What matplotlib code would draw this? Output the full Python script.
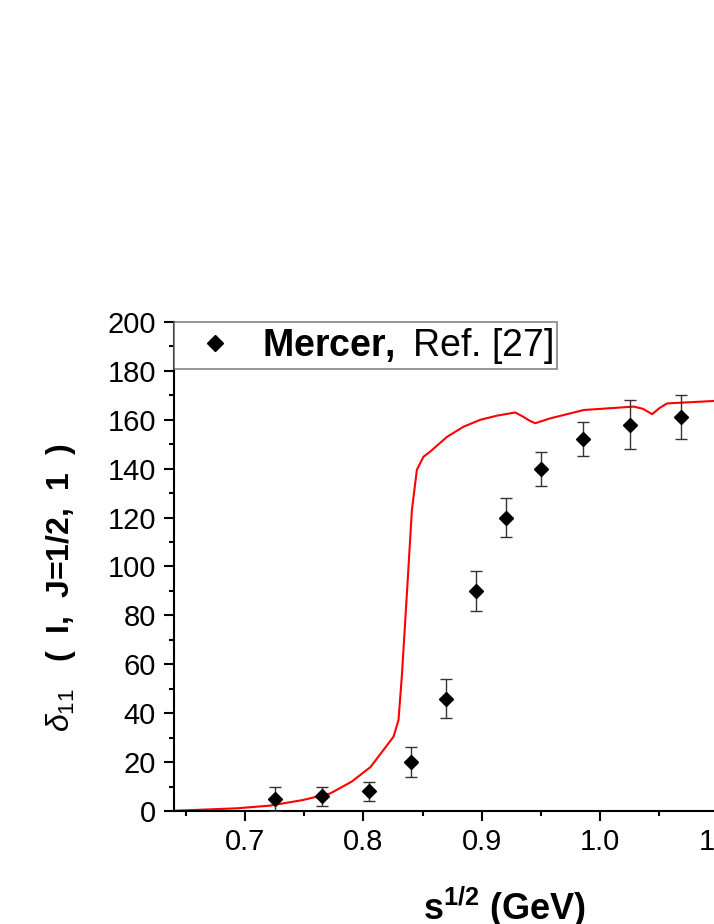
import numpy as np
import matplotlib
matplotlib.use('Agg')
from matplotlib import pyplot as plt
from matplotlib.lines import Line2D
from matplotlib.ticker import MultipleLocator

plt.rcParams['font.family'] = ['Liberation Sans', 'DejaVu Sans']
plt.rcParams['mathtext.fontset'] = 'custom'
plt.rcParams['mathtext.rm'] = 'Liberation Sans'
plt.rcParams['mathtext.bf'] = 'Liberation Sans:bold'
plt.rcParams['mathtext.it'] = 'Liberation Sans:italic'

# Mercer data points
data_x = [0.725, 0.765, 0.805, 0.840, 0.870, 0.895, 0.920, 0.950, 0.985, 1.025, 1.068]
data_y = [5, 6, 8, 20, 46, 90, 120, 140, 152, 158, 161]
data_err = [5, 4, 4, 6, 8, 8, 8, 7, 7, 10, 9]

# model curve
curve_x = [0.640, 0.693, 0.721, 0.749, 0.772, 0.790, 0.806, 0.8254, 0.8296, 0.8324,
           0.8367, 0.8409, 0.8451, 0.8507, 0.8564, 0.8705, 0.8846, 0.8987, 0.9128,
           0.9282, 0.9340, 0.9409, 0.9451, 0.9578, 0.9860, 1.0282, 1.0360, 1.0438,
           1.0500, 1.0564, 1.0959, 1.15, 1.20]
curve_y = [0.1, 1.1, 2.2, 4.5, 7.2, 12.0, 18.0, 30.4, 37.2, 55.0,
           89.0, 123.0, 139.5, 144.9, 147.0, 153.0, 157.2, 160.0, 161.7,
           163.0, 161.5, 159.5, 158.6, 160.6, 164.0, 165.4, 164.5, 162.3,
           164.8, 166.7, 167.7, 168.3, 168.8]

fig = plt.figure(figsize=(7.14, 9.24), dpi=100)
ax = fig.add_axes([174 / 714, 113 / 924, 1.0, 489 / 924])

ax.plot(curve_x, curve_y, color='red', lw=1.5, zorder=2)
ax.errorbar(data_x, data_y, yerr=data_err, fmt='D', color='black', ms=7.5,
            ecolor='#333333', elinewidth=1.0, capsize=4.5, capthick=1.0, zorder=3)

ax.set_xlim(0.64, 1.243)
ax.set_ylim(0, 200)
ax.xaxis.set_major_locator(MultipleLocator(0.1))
ax.xaxis.set_minor_locator(MultipleLocator(0.05))
ax.yaxis.set_major_locator(MultipleLocator(20))
ax.yaxis.set_minor_locator(MultipleLocator(10))
ax.xaxis.set_major_formatter(plt.FuncFormatter(lambda v, p: f'{v:.1f}'))

ax.spines['top'].set_visible(False)
ax.spines['right'].set_visible(False)
ax.spines['left'].set_linewidth(1.5)
ax.spines['bottom'].set_linewidth(1.5)
ax.tick_params(which='major', direction='out', length=7, width=1.5, labelsize=21)
ax.tick_params(axis='y', which='major', pad=6)
ax.tick_params(axis='x', which='major', pad=5)
ax.tick_params(which='minor', direction='out', length=3.6, width=1.5)

ax.set_xlabel(r'$\mathbf{s^{1/2}}$ (GeV)', fontsize=26, fontweight='bold')
ax.xaxis.set_label_coords((505 - 174) / 714, (811 - 885) / 489)
ax.set_ylabel(r'$\delta_{11}$   (  I,  J=1/2,  1  )', fontsize=23, fontweight='bold')
ax.yaxis.set_label_coords(-(174 - 78) / 714, (811 - 588) / 489)

handle = Line2D([], [], marker='D', color='black', ls='none', ms=8)
leg = ax.legend([handle], [r'$\mathbf{Mercer,}$ Ref. [27]'], loc='upper left',
                bbox_to_anchor=(0, 1), fontsize=27, frameon=True, fancybox=False,
                edgecolor='#666666', borderaxespad=0, handletextpad=0.25,
                borderpad=0.1, handlelength=2.0)
leg.get_frame().set_linewidth(1.2)

fig.savefig('out.png', dpi=100)
